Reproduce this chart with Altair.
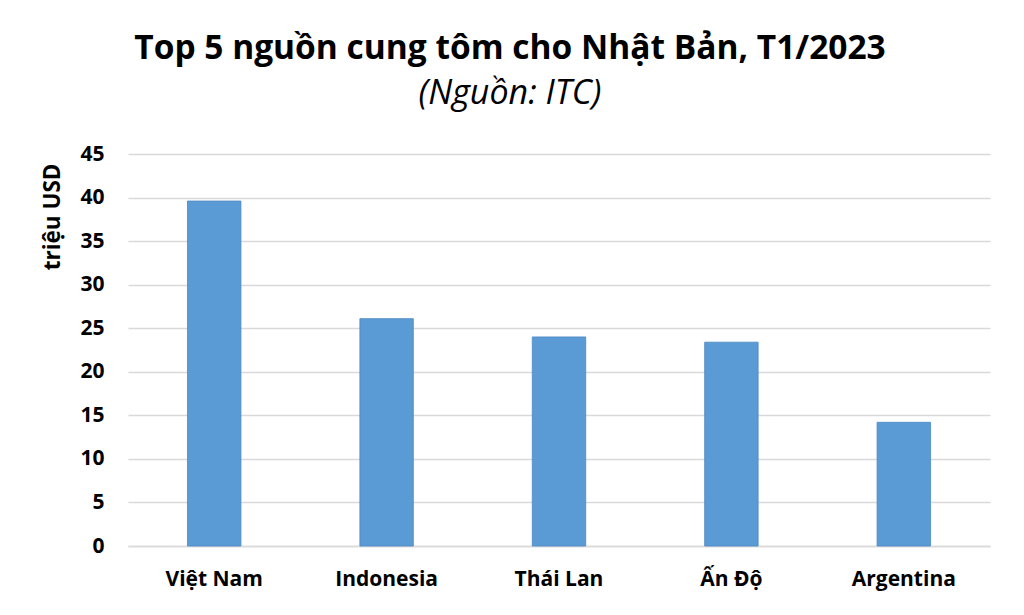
import altair as alt
import pandas as pd

countries = ["Việt Nam", "Indonesia", "Thái Lan", "Ấn Độ", "Argentina"]
values = [39.6, 26.1, 24.0, 23.4, 14.2]
y_ticks = [0, 5, 10, 15, 20, 25, 30, 35, 40, 45]

df = pd.DataFrame({"country": countries, "value": values})

FONT = "Open Sans"

chart = alt.Chart(df).mark_bar(color="#5B9BD5", stroke="#4a88c4", strokeWidth=0.8).encode(
    x=alt.X("country:N", sort=countries,
            scale=alt.Scale(paddingInner=0.69, paddingOuter=0.345),
            axis=alt.Axis(title=None, labelAngle=0, labelFont=FONT, labelFontSize=21,
                          labelFontWeight="bold", labelColor="#000000", labelPadding=22,
                          ticks=False, domain=True, domainColor="#d9d9d9", domainWidth=1.5,
                          grid=False)),
    y=alt.Y("value:Q", scale=alt.Scale(domain=[0, 45], nice=False),
            axis=alt.Axis(values=y_ticks, title="triệu USD", titleFont=FONT, titleFontSize=22.5,
                          titleFontWeight="bold", titleColor="#000000", titlePadding=15,
                          titleAnchor="end", titleY=9,
                          labelFont=FONT, labelFontSize=21, labelFontWeight="bold",
                          labelColor="#000000", labelPadding=24, ticks=False, domain=False,
                          grid=True, gridColor="#d9d9d9", gridWidth=1.5)),
).properties(
    width=862,
    height=392,
    title=alt.TitleParams(
        text="Top 5 nguồn cung tôm cho Nhật Bản, T1/2023",
        subtitle="(Nguồn: ITC)",
        font=FONT, fontSize=33.5, fontWeight="bold", color="#000000",
        subtitleFont=FONT, subtitleFontSize=34, subtitleFontStyle="italic",
        subtitleColor="#000000", subtitlePadding=11,
        anchor="middle", dx=-49, offset=31,
    ),
    autosize=alt.AutoSizeParams(type="none"),
    padding={"left": 120, "top": 146, "right": 26, "bottom": 60},
).configure(background="#ffffff").configure_view(stroke=None)

chart.save("out.html", embed_options={"renderer": "svg", "actions": False})
